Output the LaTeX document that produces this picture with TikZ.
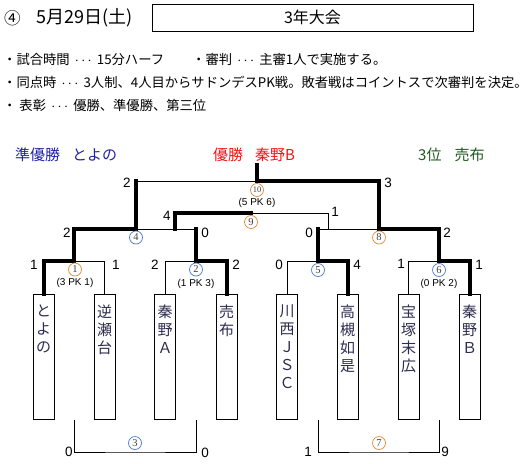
\documentclass[tikz,border=0pt]{standalone}
\usepackage{fontspec}
\setmainfont{Liberation Serif}
\setsansfont{Liberation Sans}
\newfontfamily\jp{Noto Sans CJK JP}
\usepackage{xcolor}
\usepackage{tikz}
\usetikzlibrary{positioning}
\definecolor{champred}{HTML}{FF1010}
\definecolor{runnerblue}{HTML}{2020A8}
\definecolor{thirdgreen}{HTML}{1F5A1F}
\definecolor{namenavy}{HTML}{2C2C50}
\definecolor{ringorange}{HTML}{E08A3A}
\definecolor{ringblue}{HTML}{4A7AD0}

% vertical team name, top aligned in its box
\newcommand{\vname}[1]{\parbox[c][118pt][t]{18pt}{\centering\vspace*{7pt}#1}}
% centred ellipsis
\newcommand{\dotsep}{\,$\cdots$\,}

\begin{document}
\begin{tikzpicture}[
    x=1pt, y=-1pt,
    thinline/.style={line width=0.9pt},
    winline/.style={line width=4pt, line cap=rect},
    teambox/.style={draw, line width=0.9pt, anchor=north, minimum width=21pt, inner xsep=0pt, inner ysep=3.5pt, font=\jp\fontsize{15}{18}\selectfont, text=namenavy},
    score/.style={font=\sffamily\fontsize{13.5}{13.5}\selectfont, inner sep=0pt},
    ring/.style={circle, draw=#1, line width=0.7pt, inner sep=0pt, minimum size=13pt, font=\rmfamily\fontsize{10.5}{10.5}\selectfont, text=black!75},
    pk/.style={font=\sffamily\fontsize{10}{10}\selectfont, inner sep=0pt},
    infoline/.style={anchor=west, inner sep=0pt, font=\jp\fontsize{13.3}{13.3}\selectfont},
    result/.style={anchor=west, inner sep=0pt, font=\jp\fontsize{15}{15}\selectfont}
]
    \useasboundingbox (0,0) rectangle (529,463);

    % header
    \node[anchor=west, inner sep=0pt, font=\jp\fontsize{16.5}{16.5}\selectfont] (hnum) at (4,18) {④};
    \node[anchor=west, inner sep=0pt, font=\jp\fontsize{18}{18}\selectfont] (hdate) at (36,18) {5月29日(土)};
    \node[draw, line width=1pt, minimum width=321pt, minimum height=27pt, font=\jp\fontsize{16}{16}\selectfont] (htitle) at (312.5,17.5) {3年大会};

    % rules
    \node[infoline] (info1) at (3,59) {・試合時間 \dotsep{} 15分ハーフ};
    \node[infoline] (info1b) at (192,59) {・審判 \dotsep{} 主審1人で実施する。};
    \node[infoline] (info2) at (3,82) {・同点時 \dotsep{} 3人制、4人目からサドンデスPK戦。敗者戦はコイントスで次審判を決定。};
    \node[infoline] (info3) at (3,105) {・ 表彰 \dotsep{} 優勝、準優勝、第三位};

    % results
    \node[result, text=runnerblue] (second) at (15,155) {準優勝\hspace{12pt}とよの};
    \node[result, text=champred] (first) at (213,155) {優勝\hspace{12pt}秦野B};
    \node[result, text=thirdgreen] (third) at (418,155) {3位\hspace{13pt}売布};

    % teams
    \node[teambox] (t1) at (43.5,294) {\vname{と\\よ\\の}};
    \node[teambox] (t2) at (104.5,294) {\vname{逆\\瀬\\台}};
    \node[teambox] (t3) at (165,294) {\vname{秦\\野\\Ａ}};
    \node[teambox] (t4) at (226.5,294) {\vname{売\\布}};
    \node[teambox] (t5) at (287,294) {\vname{川\\西\\Ｊ\\Ｓ\\Ｃ}};
    \node[teambox] (t6) at (347.5,294) {\vname{高\\槻\\如\\是}};
    \node[teambox] (t7) at (408.5,294) {\vname{宝\\塚\\末\\広}};
    \node[teambox] (t8) at (469.5,294) {\vname{秦\\野\\Ｂ}};

    % match points
    \coordinate (m1) at (74,261);
    \coordinate (m2) at (196,261);
    \coordinate (m5) at (318,261);
    \coordinate (m6) at (439,261);
    \coordinate (m4) at (136,229);
    \coordinate (m8) at (379,229);
    \coordinate (m10) at (257,181);
    \coordinate (champ) at (257,165);
    \coordinate (m9) at (251,213);
    \coordinate (p9l) at (175,229);
    \coordinate (p9r) at (328,229);
    \coordinate (m3) at (135,452);
    \coordinate (m7) at (379,452);

    % losing lines
    \draw[thinline] (t2.north) |- (m1);
    \draw[thinline] (t3.north) |- (m2);
    \draw[thinline] (t5.north) |- (m5);
    \draw[thinline] (t7.north) |- (m6);
    \draw[thinline] (m2 |- m4) -- (m4);
    \draw[thinline] (m5 |- m8) -- (m8);
    \draw[thinline] (m4 |- m10) -- (m10);
    \draw[thinline] (p9r) |- (m9);
    \draw[thinline] (m1 |- t1.south) |- (m3) -| (m2 |- t4.south);
    \draw[thinline] (m5 |- t5.south) |- (m7) -| (m6 |- t8.south);

    % winning lines
    \draw[winline] (t1.north) |- (m1) |- (m4) -- (m4 |- m10);
    \draw[winline] (t4.north) |- (m2) -- (m2 |- m4);
    \draw[winline] (t6.north) |- (m5) -- (m5 |- m8);
    \draw[winline] (t8.north) |- (m6) |- (m8) |- (m10) -- (champ);
    \draw[winline] (p9l) |- (m9);

    % match numbers
    \node[ring=ringorange] (n1) at (75,269.5) {1};
    \node[ring=ringblue] (n2) at (196,269.5) {2};
    \node[ring=ringblue] (n3) at (135,443) {3};
    \node[ring=ringblue] (n4) at (136,237.5) {4};
    \node[ring=ringblue] (n5) at (318,270) {5};
    \node[ring=ringblue] (n6) at (439,270) {6};
    \node[ring=ringorange] (n7) at (379,443) {7};
    \node[ring=ringorange] (n8) at (379,237.5) {8};
    \node[ring=ringorange] (n9) at (251,222) {9};
    \node[ring=ringorange, font=\rmfamily\fontsize{8.5}{8.5}\selectfont] (n10) at (257,190) {10};

    \node[pk] (pk1) at (75,283) {(3 PK 1)};
    \node[pk] (pk2) at (196,284) {(1 PK 3)};
    \node[pk] (pk6) at (439,284) {(0 PK 2)};
    \node[pk] (pk10) at (257,203) {(5 PK 6)};

    % scores
    \node[score] (s1l) at (34,265) {1};
    \node[score] (s1r) at (116,265) {1};
    \node[score] (s2l) at (155,265) {2};
    \node[score] (s2r) at (236,265) {2};
    \node[score] (s5l) at (279,265) {0};
    \node[score] (s5r) at (357,265) {4};
    \node[score] (s6l) at (401,264) {1};
    \node[score] (s6r) at (479,265) {1};
    \node[score] (s4l) at (67,233) {2};
    \node[score] (s4r) at (205,233) {0};
    \node[score] (s8l) at (309,233) {0};
    \node[score] (s8r) at (447,233) {2};
    \node[score] (s10l) at (127,183) {2};
    \node[score] (s10r) at (388,183) {3};
    \node[score] (s9l) at (167,216) {4};
    \node[score] (s9r) at (335,212) {1};
    \node[score] (s3l) at (69,452) {0};
    \node[score] (s3r) at (205,453) {0};
    \node[score] (s7l) at (308,452) {1};
    \node[score] (s7r) at (445,452) {9};
\end{tikzpicture}
\end{document}
